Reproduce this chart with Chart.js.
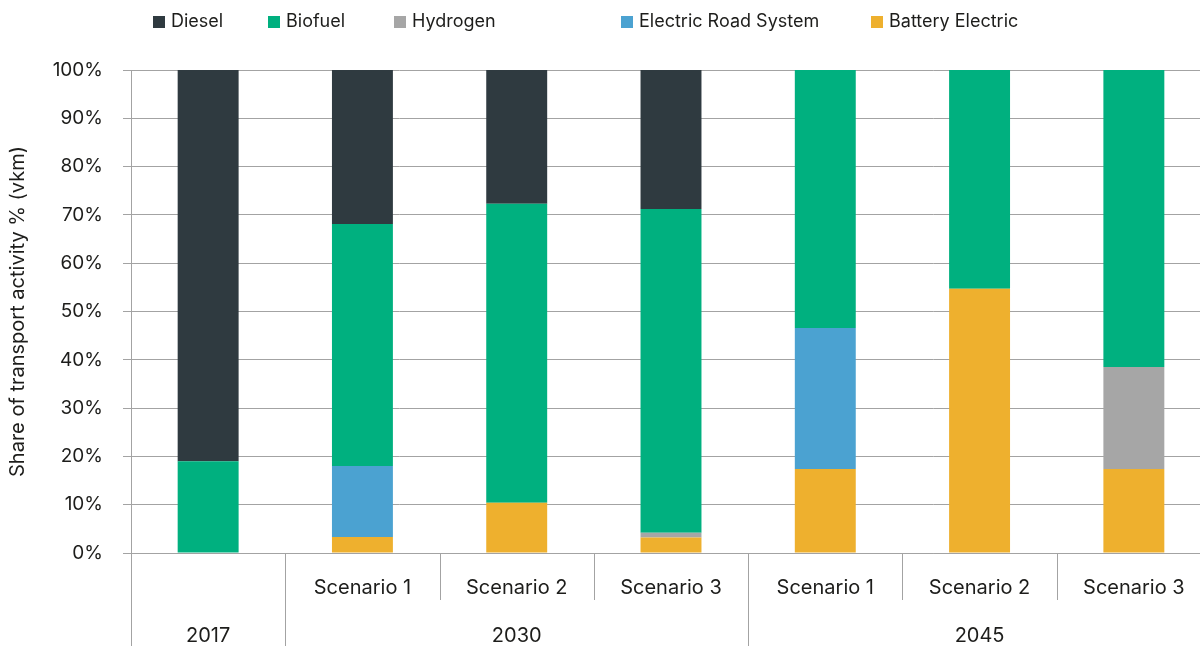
<!DOCTYPE html>
<html>
<head>
<meta charset="utf-8">
<script src="https://cdn.jsdelivr.net/npm/chart.js@4.4.1/dist/chart.umd.min.js"></script>
<style>
  html, body { margin: 0; padding: 0; background: #fff; }
  #wrap { width: 1200px; height: 646px; }
</style>
</head>
<body>
<div id="wrap"><canvas id="chart"></canvas></div>
<script>
// categories: scenario row and year row of the x axis
const scenarios = ['', 'Scenario 1', 'Scenario 2', 'Scenario 3', 'Scenario 1', 'Scenario 2', 'Scenario 3'];
const years = ['2017', '2030', '2030', '2030', '2045', '2045', '2045'];

// share of transport activity, % (vkm)
const battery  = [0, 3.3, 10.4, 3.2, 17.4, 54.7, 17.4];
const ers      = [0, 14.7, 0, 0, 29.2, 0, 0];
const hydrogen = [0, 0, 0, 1.0, 0, 0, 21.1];
const biofuel  = [19, 50.1, 61.9, 67.0, 53.4, 45.3, 61.5];
const diesel   = [81, 31.9, 27.7, 28.8, 0, 0, 0];

const FONT = 'Inter, "Noto Sans", sans-serif';
const TEXT = '#1d1d1b';
const LINE = '#a3a3a3';

// the plot in the original runs a little past the right edge of the image
const widenPlot = {
  id: 'widenPlot',
  afterLayout(chart) {
    const x = chart.scales.x;
    x.right += 11;
    x.width += 11;
    x.configure();
    chart.chartArea.right += 11;
    chart.chartArea.width += 11;
  }
};

// multi-level x axis: scenario labels, year labels and separators
const axisLabels = {
  id: 'axisLabels',
  afterDraw(chart) {
    const { ctx, chartArea, scales: { x } } = chart;
    const base = chartArea.bottom;
    const step = x.getPixelForValue(1) - x.getPixelForValue(0);
    const edge = i => x.getPixelForValue(i) - step / 2;
    ctx.save();
    ctx.strokeStyle = LINE;
    ctx.lineWidth = 1;
    for (let i = 0; i < years.length; i++) {
      const groupStart = i === 0 || years[i] !== years[i - 1];
      const px = Math.round(edge(i)) + 0.5;
      ctx.beginPath();
      ctx.moveTo(px, base);
      ctx.lineTo(px, groupStart ? chart.height : base + 47);
      ctx.stroke();
    }
    ctx.fillStyle = TEXT;
    ctx.font = '20px ' + FONT;
    ctx.textAlign = 'center';
    ctx.textBaseline = 'middle';
    scenarios.forEach((s, i) => {
      if (s) ctx.fillText(s, x.getPixelForValue(i), base + 35);
    });
    let start = 0;
    for (let i = 1; i <= years.length; i++) {
      if (i === years.length || years[i] !== years[start]) {
        const mid = (x.getPixelForValue(start) + x.getPixelForValue(i - 1)) / 2;
        ctx.fillText(years[start], mid, base + 83);
        start = i;
      }
    }
    ctx.restore();
  }
};

// legend row above the plot, in reverse stacking order
const legendX = [153, 268, 394, 621, 871];
const topLegend = {
  id: 'topLegend',
  afterDraw(chart) {
    const { ctx } = chart;
    const items = chart.data.datasets.slice().reverse();
    ctx.save();
    ctx.font = '18px ' + FONT;
    ctx.textBaseline = 'middle';
    ctx.textAlign = 'left';
    const cy = 22;
    items.forEach((ds, i) => {
      const cx = legendX[i];
      ctx.fillStyle = ds.backgroundColor;
      ctx.fillRect(cx, cy - 6, 12, 12);
      ctx.fillStyle = TEXT;
      ctx.fillText(ds.label, cx + 18, cy);
    });
    ctx.restore();
  }
};

new Chart(document.getElementById('chart'), {
  type: 'bar',
  data: {
    labels: years.map((y, i) => (y + ' ' + scenarios[i]).trim()),
    datasets: [
      { label: 'Battery Electric', data: battery, backgroundColor: '#eeb02e' },
      { label: 'Electric Road System', data: ers, backgroundColor: '#4ba2d1' },
      { label: 'Hydrogen', data: hydrogen, backgroundColor: '#a6a6a6' },
      { label: 'Biofuel', data: biofuel, backgroundColor: '#00b07f' },
      { label: 'Diesel', data: diesel, backgroundColor: '#2f3a40' }
    ]
  },
  options: {
    responsive: true,
    maintainAspectRatio: false,
    animation: false,
    datasets: {
      bar: { barPercentage: 0.395, categoryPercentage: 1, borderWidth: 0 }
    },
    layout: { padding: { top: 70, right: 0, bottom: 0, left: 0 } },
    plugins: {
      legend: { display: false },
      tooltip: { enabled: false }
    },
    scales: {
      x: {
        stacked: true,
        ticks: { display: false },
        grid: { display: false },
        border: { color: LINE },
        afterFit: s => { s.height = 93; }
      },
      y: {
        stacked: true,
        min: 0,
        max: 100,
        ticks: {
          stepSize: 10,
          padding: 20,
          color: TEXT,
          font: { family: FONT, size: 19 },
          callback: v => v + '%'
        },
        grid: { color: LINE, tickLength: 8 },
        border: { color: LINE },
        title: {
          display: true,
          text: 'Share of transport activity % (vkm)',
          color: TEXT,
          font: { family: FONT, size: 20 },
          padding: { top: 6, bottom: 6 }
        },
        afterFit: s => { s.width = 131; }
      }
    }
  },
  plugins: [widenPlot, axisLabels, topLegend]
});
</script>
</body>
</html>
